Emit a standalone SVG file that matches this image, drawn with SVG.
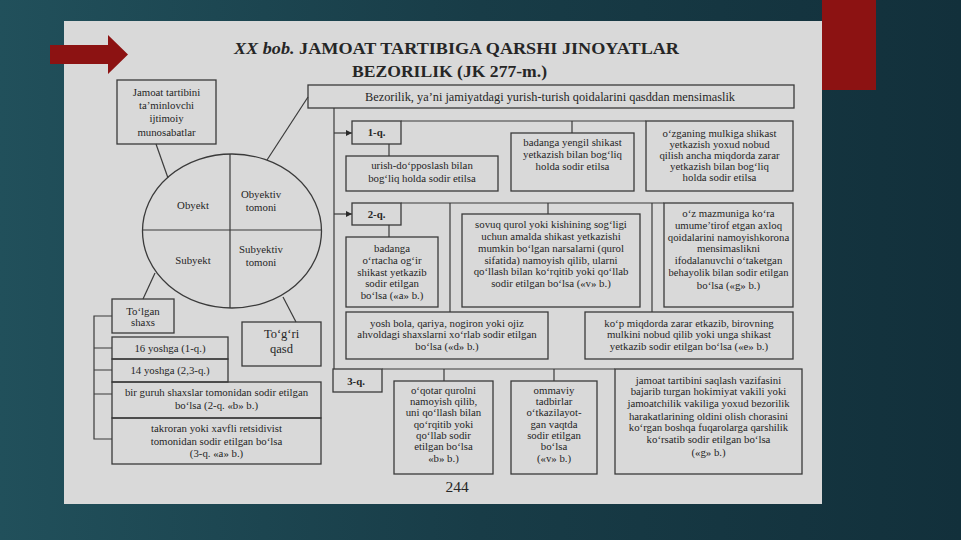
<svg xmlns="http://www.w3.org/2000/svg" width="961" height="540" viewBox="0 0 961 540">
<defs>
<linearGradient id="bg" x1="0" y1="0" x2="1" y2="0">
<stop offset="0" stop-color="#21505b"/>
<stop offset="0.5" stop-color="#183c47"/>
<stop offset="1" stop-color="#12303b"/>
</linearGradient>
<marker id="ah" viewBox="0 0 10 10" refX="10" refY="5" markerWidth="6" markerHeight="6" orient="auto" markerUnits="userSpaceOnUse">
<path d="M0,0 L10,5 L0,10 z" fill="#2b2b2b"/>
</marker>
<style>
.box{fill:none;stroke:#3a3a3a;stroke-width:1.3}
.ln{fill:none;stroke:#3a3a3a;stroke-width:1.2}
.t{font-family:"Liberation Serif","Times New Roman",serif;font-size:10.8px;fill:#262626;text-anchor:middle}
.b{font-weight:bold}
</style>
</defs>
<rect x="0" y="0" width="961" height="540" fill="url(#bg)"/>
<rect x="64" y="21" width="758" height="483" fill="#d9d9d9"/>
<rect x="822" y="0" width="54" height="90" fill="#8c1212"/>
<path d="M50,45 L108,45 L108,35 L128,54.5 L108,74 L108,64 L50,64 z" fill="#8c1212"/>

<g id="title">
<text x="234" y="54" font-family="Liberation Serif, serif" font-size="17" font-weight="bold" fill="#262626" textLength="445" lengthAdjust="spacingAndGlyphs"><tspan font-style="italic">XX bob.</tspan> JAMOAT TARTIBIGA QARSHI JINOYATLAR</text>
<text x="352" y="77" font-family="Liberation Serif, serif" font-size="16.5" font-weight="bold" fill="#262626" textLength="195" lengthAdjust="spacingAndGlyphs">BEZORILIK (JK 277-m.)</text>
</g>

<g id="connectors">
<line class="ln" x1="156" y1="144" x2="168" y2="178"/>
<line class="ln" x1="267" y1="160" x2="308" y2="97"/>
<line class="ln" x1="155" y1="273" x2="143" y2="299"/>
<line class="ln" x1="283" y1="297" x2="296" y2="322"/>
<line class="ln" x1="334" y1="108" x2="334" y2="369"/>
<line class="ln" x1="334" y1="133" x2="352" y2="133" marker-end="url(#ah)"/>
<line class="ln" x1="334" y1="214" x2="352" y2="214" marker-end="url(#ah)"/>
<line class="ln" x1="401" y1="121" x2="646" y2="121"/>
<line class="ln" x1="572" y1="121" x2="572" y2="133"/>
<line class="ln" x1="389" y1="144" x2="389" y2="156"/>
<line class="ln" x1="401" y1="203" x2="664" y2="203"/>
<line class="ln" x1="450" y1="203" x2="450" y2="312"/>
<line class="ln" x1="548" y1="203" x2="548" y2="214"/>
<line class="ln" x1="652" y1="203" x2="652" y2="312"/>
<line class="ln" x1="389" y1="225" x2="389" y2="237"/>
<line class="ln" x1="382" y1="369" x2="615" y2="369"/>
<line class="ln" x1="444" y1="369" x2="444" y2="381"/>
<line class="ln" x1="554" y1="369" x2="554" y2="381"/>
<path class="ln" d="M112,316 H94 V439 H112 M94,348 H112 M94,370 H112 M94,394 H112"/>
</g>

<g id="n-jamoat">
<rect class="box" x="117" y="80" width="99" height="64"/>
<text class="t" x="166.5" y="96">Jamoat tartibini</text>
<text class="t" x="166.5" y="109">ta’minlovchi</text>
<text class="t" x="166.5" y="122">ijtimoiy</text>
<text class="t" x="166.5" y="136">munosabatlar</text>
</g>

<g id="n-ellipse">
<ellipse class="box" cx="232" cy="231" rx="89.5" ry="77"/>
<line class="ln" x1="230" y1="154" x2="230" y2="308"/>
<line class="ln" x1="143" y1="230" x2="321" y2="230"/>
<text class="t" x="193" y="209">Obyekt</text>
<text class="t" x="261" y="198">Obyektiv</text>
<text class="t" x="261" y="211">tomoni</text>
<text class="t" x="193" y="264">Subyekt</text>
<text class="t" x="261" y="253">Subyektiv</text>
<text class="t" x="261" y="266">tomoni</text>
</g>

<g id="n-bezorilik">
<rect class="box" x="308" y="85" width="486" height="23"/>
<text class="t" x="365" y="100.5" style="text-anchor:start;font-size:12.5px" textLength="370" lengthAdjust="spacingAndGlyphs">Bezorilik, ya’ni jamiyatdagi yurish-turish qoidalarini qasddan mensimaslik</text>
</g>

<g id="n-1q">
<rect class="box" x="352" y="121" width="49" height="23"/>
<text class="t b" x="376.5" y="136">1-q.</text>
</g>
<g id="n-urish">
<rect class="box" x="346" y="156" width="152" height="35"/>
<text class="t" x="422" y="169">urish-do‘pposlash bilan</text>
<text class="t" x="422" y="182">bog‘liq holda sodir etilsa</text>
</g>
<g id="n-yengil">
<rect class="box" x="511" y="133" width="123" height="58"/>
<text class="t" x="572.5" y="146">badanga yengil shikast</text>
<text class="t" x="572.5" y="158">yetkazish bilan bog‘liq</text>
<text class="t" x="572.5" y="170">holda sodir etilsa</text>
</g>
<g id="n-mulk">
<rect class="box" x="646" y="121" width="147" height="70"/>
<text class="t" x="719.5" y="137">o‘zganing mulkiga shikast</text>
<text class="t" x="719.5" y="148">yetkazish yoxud nobud</text>
<text class="t" x="719.5" y="159">qilish ancha miqdorda zarar</text>
<text class="t" x="719.5" y="170">yetkazish bilan bog‘liq</text>
<text class="t" x="719.5" y="181">holda sodir etilsa</text>
</g>

<g id="n-2q">
<rect class="box" x="352" y="203" width="49" height="22"/>
<text class="t b" x="376.5" y="218">2-q.</text>
</g>
<g id="n-ortacha">
<rect class="box" x="346" y="237" width="92" height="70"/>
<text class="t" x="392" y="252">badanga</text>
<text class="t" x="392" y="264">o‘rtacha og‘ir</text>
<text class="t" x="392" y="276">shikast yetkazib</text>
<text class="t" x="392" y="287">sodir etilgan</text>
<text class="t" x="392" y="299">bo‘lsa («a» b.)</text>
</g>
<g id="n-sovuq">
<rect class="box" x="462" y="214" width="178" height="93"/>
<text class="t" x="551" y="228">sovuq qurol yoki kishining sog‘ligi</text>
<text class="t" x="551" y="240">uchun amalda shikast yetkazishi</text>
<text class="t" x="551" y="252">mumkin bo‘lgan narsalarni (qurol</text>
<text class="t" x="551" y="264">sifatida) namoyish qilib, ularni</text>
<text class="t" x="551" y="275">qo‘llash bilan ko‘rqitib yoki qo‘llab</text>
<text class="t" x="551" y="287">sodir etilgan bo‘lsa («v» b.)</text>
</g>
<g id="n-axloq">
<rect class="box" x="664" y="203" width="129" height="104"/>
<text class="t" x="728.5" y="217">o‘z mazmuniga ko‘ra</text>
<text class="t" x="728.5" y="229">umume’tirof etgan axloq</text>
<text class="t" x="728.5" y="241">qoidalarini namoyishkorona</text>
<text class="t" x="728.5" y="252">mensimaslikni</text>
<text class="t" x="728.5" y="264">ifodalanuvchi o‘taketgan</text>
<text class="t" x="728.5" y="276" style="font-size:10.5px">behayolik bilan sodir etilgan</text>
<text class="t" x="728.5" y="289">bo‘lsa («g» b.)</text>
</g>
<g id="n-yosh">
<rect class="box" x="346" y="312" width="202" height="47"/>
<text class="t" x="447" y="327">yosh bola, qariya, nogiron yoki ojiz</text>
<text class="t" x="447" y="338">ahvoldagi shaxslarni xo‘rlab sodir etilgan</text>
<text class="t" x="447" y="350">bo‘lsa («d» b.)</text>
</g>
<g id="n-kop">
<rect class="box" x="585" y="312" width="208" height="47"/>
<text class="t" x="689" y="327">ko‘p miqdorda zarar etkazib, birovning</text>
<text class="t" x="689" y="338">mulkini nobud qilib yoki unga shikast</text>
<text class="t" x="689" y="350">yetkazib sodir etilgan bo‘lsa («e» b.)</text>
</g>

<g id="n-3q">
<rect class="box" x="333" y="369" width="49" height="23"/>
<text class="t b" x="356" y="385">3-q.</text>
</g>
<g id="n-oqotar">
<rect class="box" x="394" y="381" width="99" height="93"/>
<text class="t" x="443.5" y="394">o‘qotar qurolni</text>
<text class="t" x="443.5" y="405">namoyish qilib,</text>
<text class="t" x="443.5" y="416">uni qo‘llash bilan</text>
<text class="t" x="443.5" y="428">qo‘rqitib yoki</text>
<text class="t" x="443.5" y="439">qo‘llab sodir</text>
<text class="t" x="443.5" y="450">etilgan bo‘lsa</text>
<text class="t" x="443.5" y="462">«b» b.)</text>
</g>
<g id="n-ommaviy">
<rect class="box" x="511" y="381" width="86" height="93"/>
<text class="t" x="554" y="394">ommaviy</text>
<text class="t" x="554" y="405">tadbirlar</text>
<text class="t" x="554" y="416">o‘tkazilayot-</text>
<text class="t" x="554" y="428">gan vaqtda</text>
<text class="t" x="554" y="439">sodir etilgan</text>
<text class="t" x="554" y="450">bo‘lsa</text>
<text class="t" x="554" y="462">(«v» b.)</text>
</g>
<g id="n-hokimiyat">
<rect class="box" x="615" y="369" width="187" height="105"/>
<text class="t" x="708.5" y="384">jamoat tartibini saqlash vazifasini</text>
<text class="t" x="708.5" y="395">bajarib turgan hokimiyat vakili yoki</text>
<text class="t" x="708.5" y="407">jamoatchilik vakiliga yoxud bezorilik</text>
<text class="t" x="708.5" y="420">harakatlarining oldini olish chorasini</text>
<text class="t" x="708.5" y="431">ko‘rgan boshqa fuqarolarga qarshilik</text>
<text class="t" x="708.5" y="443">ko‘rsatib sodir etilgan bo‘lsa</text>
<text class="t" x="708.5" y="456">(«g»  b.)</text>
</g>

<g id="n-tolgan">
<rect class="box" x="112" y="299" width="62" height="34"/>
<text class="t" x="143" y="315">To‘lgan</text>
<text class="t" x="143" y="326">shaxs</text>
</g>
<g id="n-16">
<rect class="box" x="112" y="337" width="116" height="22"/>
<text class="t" x="170" y="351.5">16 yoshga (1-q.)</text>
</g>
<g id="n-14">
<rect class="box" x="112" y="359" width="116" height="23"/>
<text class="t" x="170" y="374">14 yoshga (2,3-q.)</text>
</g>
<g id="n-guruh">
<rect class="box" x="112" y="382" width="209" height="36"/>
<text class="t" x="216.5" y="396">bir guruh shaxslar tomonidan sodir etilgan</text>
<text class="t" x="216.5" y="409">bo‘lsa (2-q. «b» b.)</text>
</g>
<g id="n-takroran">
<rect class="box" x="112" y="418" width="209" height="46"/>
<text class="t" x="216.5" y="432">takroran yoki xavfli retsidivist</text>
<text class="t" x="216.5" y="445">tomonidan sodir etilgan bo‘lsa</text>
<text class="t" x="216.5" y="457">(3-q. «a» b.)</text>
</g>
<g id="n-togri">
<rect class="box" x="242" y="322" width="79" height="44"/>
<text class="t" x="281.5" y="338" style="font-size:12.5px">To‘g‘ri</text>
<text class="t" x="281.5" y="353" style="font-size:12.5px">qasd</text>
</g>

<text x="457" y="492" font-family="Liberation Serif, serif" font-size="15.5" fill="#262626" text-anchor="middle">244</text>
</svg>
